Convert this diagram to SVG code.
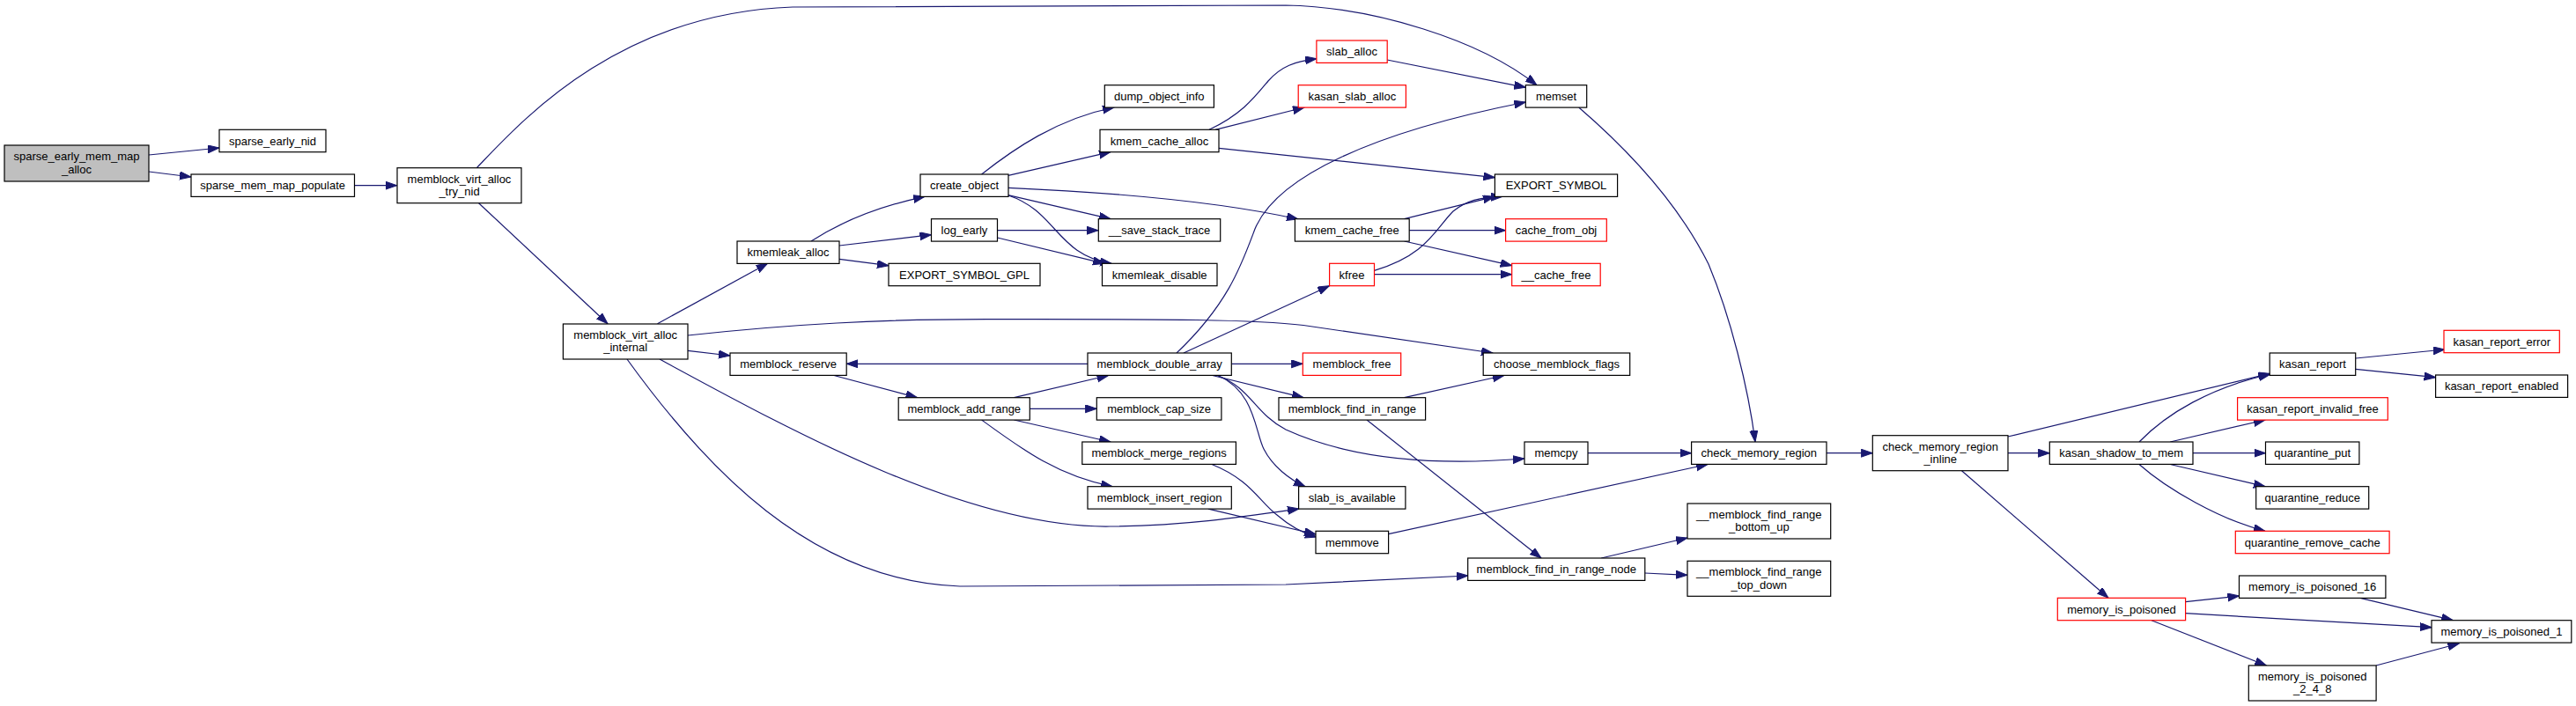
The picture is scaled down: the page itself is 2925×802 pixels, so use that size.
<svg xmlns="http://www.w3.org/2000/svg" width="2925" height="802" viewBox="0 0 2925 802">
<style>
.n rect{fill:#fff;stroke:#000;stroke-width:1.2}
.n.red rect{stroke:#ff0000}
.n.root rect{fill:#bfbfbf}
.n text{font-family:"Liberation Sans",Arial,sans-serif;font-size:13px;fill:#000;text-anchor:middle}
#edges path{fill:none;stroke:#191970;stroke-width:1.2;marker-end:url(#ah)}
</style>
<defs>
<marker id="ah" markerUnits="userSpaceOnUse" markerWidth="14" markerHeight="10" refX="13" refY="4.5" orient="auto">
<path d="M0,0 L13,4.5 L0,9 z" fill="#191970" stroke="#191970" stroke-width="1"/>
</marker>
</defs>
<rect width="2925" height="802" fill="#fff"/>
<g id="edges">
<path d="M169,176 L249,168"/>
<path d="M169,195 L217,201"/>
<path d="M402.5,210.7 L450.7,210.7"/>
<path d="M541,191 C590,140 700,15 900,8 L1460,6 C1560,8 1680,45 1745,96.7"/>
<path d="M543.6,230.7 L690,367.7"/>
<path d="M746.5,367.7 L871.6,299.3"/>
<path d="M781,381 C900,368 1000,362.7 1120,362.7 C1300,362.7 1420,362 1480,369.5 L1695,401"/>
<path d="M781,398.3 L829,404"/>
<path d="M749,408 C900,490 1100,600 1260,598 C1350,597 1420,586 1475,578"/>
<path d="M712,408 C800,530 920,660 1090,666 L1460,664 L1666.7,654"/>
<path d="M921,274 C955,252 995,235 1050,223.3"/>
<path d="M953,279 L1057.5,266.7"/>
<path d="M953,294.3 L1009,301.7"/>
<path d="M1114.6,198 C1150,170 1200,135 1265,122"/>
<path d="M1144.8,199.3 L1261,172.7"/>
<path d="M1144.8,213.3 C1250,218 1380,228 1474,249"/>
<path d="M1144.8,221.7 L1261,248.7"/>
<path d="M1145,222 C1200,240 1200,290 1262,299.3"/>
<path d="M1132.5,261.7 L1247,261.7"/>
<path d="M1132.5,270 L1254,299.3"/>
<path d="M1373,147.3 C1410,130 1425,110 1440,92 C1455,75 1470,70 1495,66.7"/>
<path d="M1380,147.3 L1481,122"/>
<path d="M1384,168.3 L1697.4,201.7"/>
<path d="M1575,68 L1732.3,99.3"/>
<path d="M1336,401 C1395,345 1410,300 1425,260 C1450,200 1560,150 1732.3,116"/>
<path d="M1594.5,248.7 L1697,223.3"/>
<path d="M1600,261.7 L1709.6,261.7"/>
<path d="M1594.5,274 L1716.7,301.7"/>
<path d="M1560.5,307.3 C1620,290 1630,260 1650,240 C1665,228 1680,224 1706,223.3"/>
<path d="M1560.5,311.7 L1716.7,311.7"/>
<path d="M1344,401 L1509.5,324.7"/>
<path d="M1235,413.3 L961.2,413.3"/>
<path d="M1398.3,413.3 L1479.3,413.3"/>
<path d="M1376.7,426.5 L1480,451.7"/>
<path d="M1382,426.5 C1420,440 1425,470 1460,488 C1530,520 1620,530 1731,521"/>
<path d="M1383,426.5 C1425,445 1425,490 1435,510 C1445,530 1465,545 1482,552.7"/>
<path d="M947,426.5 L1041.5,451.7"/>
<path d="M1151.4,451.7 L1258.5,426.5"/>
<path d="M1169.3,464.3 L1245.3,464.3"/>
<path d="M1151.4,477 L1260.9,502"/>
<path d="M1114.6,477 C1160,510 1200,540 1263,552.7"/>
<path d="M1376,527.5 C1420,545 1430,570 1450,585 C1465,598 1480,606 1495,610"/>
<path d="M1372,578.2 L1494,607"/>
<path d="M1594.5,451.7 L1707.8,426.5"/>
<path d="M1552,477 L1750,634"/>
<path d="M1803,514.7 L1920.6,514.7"/>
<path d="M1576.6,606.7 L1939,527.5"/>
<path d="M1792.7,122 C1860,180 1910,240 1940,300 C1965,360 1985,440 1993,502"/>
<path d="M2074,514.7 L2126.3,514.7"/>
<path d="M1818.2,634 L1916,611"/>
<path d="M1867.8,651 L1916,653.3"/>
<path d="M2280,496 L2577.2,424.3"/>
<path d="M2280,514.7 L2327.3,514.7"/>
<path d="M2227.5,534.7 L2394,679.3"/>
<path d="M2429,502 C2460,470 2510,440 2578,425"/>
<path d="M2464.2,502 L2572,477"/>
<path d="M2490,514.7 L2572.5,514.7"/>
<path d="M2464.2,527.5 L2572,552.7"/>
<path d="M2429,527.5 C2460,555 2520,590 2572,603.3"/>
<path d="M2674.7,407 L2776,397"/>
<path d="M2674.7,419.3 L2765.6,428.7"/>
<path d="M2481.6,683.7 L2542.5,677"/>
<path d="M2481.6,696.7 L2761,712.7"/>
<path d="M2443,704.7 L2573.4,756"/>
<path d="M2680,679.3 L2785.3,704.7"/>
<path d="M2698,756 L2792.3,731"/>
</g>
<g id="sparse_early_mem_map_alloc" class="n root"><rect x="5" y="165" width="164" height="41"/><text x="87" y="182">sparse_early_mem_map</text><text x="87" y="197">_alloc</text></g>
<g id="sparse_early_nid" class="n"><rect x="249" y="147.3" width="121" height="25.4"/><text x="309.5" y="164.6">sparse_early_nid</text></g>
<g id="sparse_mem_map_populate" class="n"><rect x="217" y="198" width="185.5" height="25.4"/><text x="309.7" y="215.3">sparse_mem_map_populate</text></g>
<g id="memblock_virt_alloc_try_nid" class="n"><rect x="451" y="190.7" width="141" height="40"/><text x="521.5" y="207.5">memblock_virt_alloc</text><text x="521.5" y="222">_try_nid</text></g>
<g id="memblock_virt_alloc_internal" class="n"><rect x="639.4" y="368" width="141.6" height="40"/><text x="710.2" y="384.8">memblock_virt_alloc</text><text x="710.2" y="399.3">_internal</text></g>
<g id="kmemleak_alloc" class="n"><rect x="837" y="274" width="116" height="25.4"/><text x="895" y="291.3">kmemleak_alloc</text></g>
<g id="create_object" class="n"><rect x="1045" y="198" width="100" height="25.4"/><text x="1095" y="215.3">create_object</text></g>
<g id="log_early" class="n"><rect x="1057.5" y="248.7" width="75" height="25.4"/><text x="1095" y="266">log_early</text></g>
<g id="EXPORT_SYMBOL_GPL" class="n"><rect x="1009" y="299.3" width="172" height="25.4"/><text x="1095" y="316.6">EXPORT_SYMBOL_GPL</text></g>
<g id="memblock_reserve" class="n"><rect x="829" y="401" width="132.2" height="25.4"/><text x="895.1" y="418.3">memblock_reserve</text></g>
<g id="memblock_add_range" class="n"><rect x="1020.2" y="451.7" width="149.1" height="25.4"/><text x="1094.8" y="469">memblock_add_range</text></g>
<g id="dump_object_info" class="n"><rect x="1254.3" y="96.7" width="124.1" height="25.4"/><text x="1316.3" y="114">dump_object_info</text></g>
<g id="kmem_cache_alloc" class="n"><rect x="1249" y="147.3" width="135" height="25.4"/><text x="1316.5" y="164.6">kmem_cache_alloc</text></g>
<g id="__save_stack_trace" class="n"><rect x="1247.3" y="248.7" width="138.4" height="25.4"/><text x="1316.5" y="266">__save_stack_trace</text></g>
<g id="kmemleak_disable" class="n"><rect x="1251.5" y="299.3" width="130.5" height="25.4"/><text x="1316.7" y="316.6">kmemleak_disable</text></g>
<g id="memblock_double_array" class="n"><rect x="1235" y="401" width="163.3" height="25.4"/><text x="1316.6" y="418.3">memblock_double_array</text></g>
<g id="memblock_cap_size" class="n"><rect x="1245.3" y="451.7" width="141.6" height="25.4"/><text x="1316.1" y="469">memblock_cap_size</text></g>
<g id="memblock_merge_regions" class="n"><rect x="1228.8" y="502" width="174.6" height="25.4"/><text x="1316.1" y="519.3">memblock_merge_regions</text></g>
<g id="memblock_insert_region" class="n"><rect x="1235" y="552.7" width="163.3" height="25.4"/><text x="1316.6" y="570">memblock_insert_region</text></g>
<g id="slab_alloc" class="n red"><rect x="1494.9" y="46" width="80.3" height="25.4"/><text x="1535" y="63.3">slab_alloc</text></g>
<g id="kasan_slab_alloc" class="n red"><rect x="1474.2" y="96.7" width="122.2" height="25.4"/><text x="1535.3" y="114">kasan_slab_alloc</text></g>
<g id="kmem_cache_free" class="n"><rect x="1470.4" y="248.7" width="129.8" height="25.4"/><text x="1535.3" y="266">kmem_cache_free</text></g>
<g id="kfree" class="n red"><rect x="1509.6" y="299.3" width="50.9" height="25.4"/><text x="1535" y="316.6">kfree</text></g>
<g id="memblock_free" class="n red"><rect x="1479.3" y="401" width="111.4" height="25.4"/><text x="1535" y="418.3">memblock_free</text></g>
<g id="memblock_find_in_range" class="n"><rect x="1452" y="451.7" width="166.6" height="25.4"/><text x="1535.3" y="469">memblock_find_in_range</text></g>
<g id="slab_is_available" class="n"><rect x="1474.6" y="552.7" width="121.3" height="25.4"/><text x="1535.2" y="570">slab_is_available</text></g>
<g id="memmove" class="n"><rect x="1494" y="603.3" width="82.6" height="25.4"/><text x="1535.3" y="620.6">memmove</text></g>
<g id="memset" class="n"><rect x="1732.3" y="96.7" width="69.4" height="25.4"/><text x="1767" y="114">memset</text></g>
<g id="EXPORT_SYMBOL" class="n"><rect x="1697.4" y="198" width="139.2" height="25.4"/><text x="1767" y="215.3">EXPORT_SYMBOL</text></g>
<g id="cache_from_obj" class="n red"><rect x="1709.6" y="248.7" width="114.7" height="25.4"/><text x="1767" y="266">cache_from_obj</text></g>
<g id="__cache_free" class="n red"><rect x="1716.7" y="299.3" width="100.5" height="25.4"/><text x="1767" y="316.6">__cache_free</text></g>
<g id="choose_memblock_flags" class="n"><rect x="1684.2" y="401" width="166.5" height="25.4"/><text x="1767.5" y="418.3">choose_memblock_flags</text></g>
<g id="memcpy" class="n"><rect x="1731" y="502" width="72" height="25.4"/><text x="1767" y="519.3">memcpy</text></g>
<g id="memblock_find_in_range_node" class="n"><rect x="1666.7" y="634" width="201.1" height="25.4"/><text x="1767.3" y="651.3">memblock_find_in_range_node</text></g>
<g id="check_memory_region" class="n"><rect x="1920.6" y="502" width="153.4" height="25.4"/><text x="1997.3" y="519.3">check_memory_region</text></g>
<g id="__memblock_find_range_bottom_up" class="n"><rect x="1916" y="572" width="162.7" height="40"/><text x="1997.3" y="588.8">__memblock_find_range</text><text x="1997.3" y="603.3">_bottom_up</text></g>
<g id="__memblock_find_range_top_down" class="n"><rect x="1916" y="637.3" width="162.7" height="40"/><text x="1997.3" y="654.1">__memblock_find_range</text><text x="1997.3" y="668.6">_top_down</text></g>
<g id="check_memory_region_inline" class="n"><rect x="2126.3" y="494.7" width="153.7" height="40"/><text x="2203.2" y="511.5">check_memory_region</text><text x="2203.2" y="526">_inline</text></g>
<g id="kasan_shadow_to_mem" class="n"><rect x="2327.3" y="502" width="162.7" height="25.4"/><text x="2408.7" y="519.3">kasan_shadow_to_mem</text></g>
<g id="memory_is_poisoned" class="n red"><rect x="2336.3" y="679.3" width="145.3" height="25.4"/><text x="2409" y="696.6">memory_is_poisoned</text></g>
<g id="kasan_report" class="n"><rect x="2577.2" y="401" width="97.5" height="25.4"/><text x="2626" y="418.3">kasan_report</text></g>
<g id="kasan_report_invalid_free" class="n red"><rect x="2540.6" y="451.7" width="170.7" height="25.4"/><text x="2626" y="469">kasan_report_invalid_free</text></g>
<g id="quarantine_put" class="n"><rect x="2572.5" y="502" width="106.4" height="25.4"/><text x="2625.7" y="519.3">quarantine_put</text></g>
<g id="quarantine_reduce" class="n"><rect x="2561.7" y="552.7" width="128" height="25.4"/><text x="2625.7" y="570">quarantine_reduce</text></g>
<g id="quarantine_remove_cache" class="n red"><rect x="2538.3" y="603.3" width="174.8" height="25.4"/><text x="2625.7" y="620.6">quarantine_remove_cache</text></g>
<g id="memory_is_poisoned_16" class="n"><rect x="2542.5" y="654" width="166.4" height="25.4"/><text x="2625.7" y="671.3">memory_is_poisoned_16</text></g>
<g id="memory_is_poisoned_2_4_8" class="n"><rect x="2553.3" y="756" width="144.8" height="40"/><text x="2625.7" y="772.8">memory_is_poisoned</text><text x="2625.7" y="787.3">_2_4_8</text></g>
<g id="kasan_report_error" class="n red"><rect x="2775" y="375.3" width="131.3" height="25.4"/><text x="2840.7" y="392.6">kasan_report_error</text></g>
<g id="kasan_report_enabled" class="n"><rect x="2765.6" y="426" width="150" height="25.4"/><text x="2840.6" y="443.3">kasan_report_enabled</text></g>
<g id="memory_is_poisoned_1" class="n"><rect x="2761" y="704.7" width="158.8" height="25.4"/><text x="2840.4" y="722">memory_is_poisoned_1</text></g>
</svg>
